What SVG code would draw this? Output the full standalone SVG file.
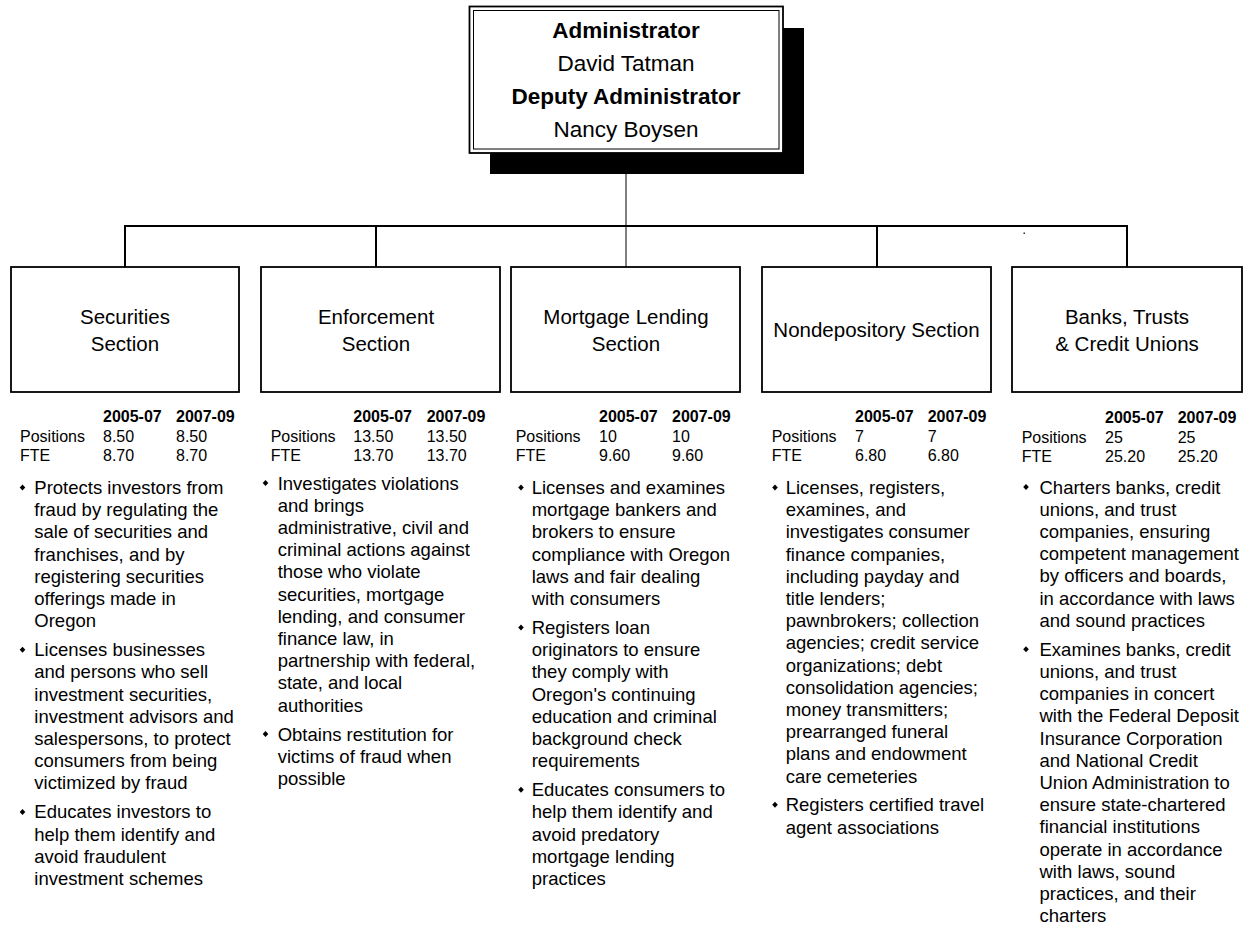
<svg xmlns="http://www.w3.org/2000/svg" width="1244" height="926" viewBox="0 0 1244 926">
<style>
text{font-family:"Liberation Sans",Arial,sans-serif;fill:#000}
.top{font-size:22.5px;text-anchor:middle}
.b{font-weight:bold}
.title{font-size:20.5px;text-anchor:middle}
.tbl{font-size:16px}
.body{font-size:18.5px}
.box{fill:#fff;stroke:#000;stroke-width:1.8}
.con{stroke:#000;fill:none}
.bul{fill:#000}
</style>
<defs>
<polygon id="dia" points="0,-3 2.8,0 0,3 -2.8,0"/>
</defs>
<rect x="0" y="0" width="1244" height="926" fill="#fff"/>

<g id="connectors">
<line class="con" x1="626" y1="174" x2="626" y2="267" stroke-width="1"/>
<polyline class="con" points="125,267 125,226 1127,226 1127,267" stroke-width="2"/>
<line class="con" x1="376" y1="226" x2="376" y2="267" stroke-width="2"/>
<line class="con" x1="877" y1="226" x2="877" y2="267" stroke-width="2"/>
<rect x="1023.5" y="232.5" width="1.5" height="1.5" fill="#333"/>
</g>

<g id="administrator">
<rect x="490" y="28" width="314" height="146" fill="#000"/>
<rect x="469.5" y="6.5" width="313.5" height="146.5" fill="#fff" stroke="#000" stroke-width="1.8"/>
<rect x="473.5" y="10.5" width="305.5" height="138.5" fill="none" stroke="#000" stroke-width="1"/>
<text class="top b" x="626" y="37.5">Administrator</text>
<text class="top" x="626" y="71">David Tatman</text>
<text class="top b" x="626" y="104">Deputy Administrator</text>
<text class="top" x="626" y="137">Nancy Boysen</text>
</g>

<g id="securities">
<rect class="box" x="11" y="267" width="228" height="125"/>
<text class="title" x="125" y="323.5">Securities</text>
<text class="title" x="125" y="350.5">Section</text>
<g class="tbl">
<text class="tbl b" x="103" y="422">2005-07</text><text class="tbl b" x="176" y="422">2007-09</text>
<text class="tbl" x="20" y="441.5">Positions</text><text class="tbl" x="103" y="441.5">8.50</text><text class="tbl" x="176" y="441.5">8.50</text>
<text class="tbl" x="20" y="460.5">FTE</text><text class="tbl" x="103" y="460.5">8.70</text><text class="tbl" x="176" y="460.5">8.70</text>
</g>
<use href="#dia" x="22.5" y="487.5"/>
<use href="#dia" x="22.5" y="649.7"/>
<use href="#dia" x="22.5" y="811.9"/>
<text class="body" x="34.3" y="494"><tspan x="34.3" dy="0">Protects investors from</tspan><tspan x="34.3" dy="22.2">fraud by regulating the</tspan><tspan x="34.3" dy="22.2">sale of securities and</tspan><tspan x="34.3" dy="22.2">franchises, and by</tspan><tspan x="34.3" dy="22.2">registering securities</tspan><tspan x="34.3" dy="22.2">offerings made in</tspan><tspan x="34.3" dy="22.2">Oregon</tspan></text>
<text class="body" x="34.3" y="656.2"><tspan x="34.3" dy="0">Licenses businesses</tspan><tspan x="34.3" dy="22.2">and persons who sell</tspan><tspan x="34.3" dy="22.2">investment securities,</tspan><tspan x="34.3" dy="22.2">investment advisors and</tspan><tspan x="34.3" dy="22.2">salespersons, to protect</tspan><tspan x="34.3" dy="22.2">consumers from being</tspan><tspan x="34.3" dy="22.2">victimized by fraud</tspan></text>
<text class="body" x="34.3" y="818.4"><tspan x="34.3" dy="0">Educates investors to</tspan><tspan x="34.3" dy="22.2">help them identify and</tspan><tspan x="34.3" dy="22.2">avoid fraudulent</tspan><tspan x="34.3" dy="22.2">investment schemes</tspan></text>
</g>

<g id="enforcement">
<rect class="box" x="261" y="267" width="239" height="125"/>
<text class="title" x="376" y="323.5">Enforcement</text>
<text class="title" x="376" y="350.5">Section</text>
<text class="tbl b" x="353.3" y="422">2005-07</text><text class="tbl b" x="426.7" y="422">2007-09</text>
<text class="tbl" x="270.7" y="441.5">Positions</text><text class="tbl" x="353.3" y="441.5">13.50</text><text class="tbl" x="426.7" y="441.5">13.50</text>
<text class="tbl" x="270.7" y="460.5">FTE</text><text class="tbl" x="353.3" y="460.5">13.70</text><text class="tbl" x="426.7" y="460.5">13.70</text>
<use href="#dia" x="265.5" y="483"/>
<use href="#dia" x="265.5" y="734"/>
<text class="body" x="277.7" y="489.5"><tspan x="277.7" dy="0">Investigates violations</tspan><tspan x="277.7" dy="22.2">and brings</tspan><tspan x="277.7" dy="22.2">administrative, civil and</tspan><tspan x="277.7" dy="22.2">criminal actions against</tspan><tspan x="277.7" dy="22.2">those who violate</tspan><tspan x="277.7" dy="22.2">securities, mortgage</tspan><tspan x="277.7" dy="22.2">lending, and consumer</tspan><tspan x="277.7" dy="22.2">finance law, in</tspan><tspan x="277.7" dy="22.2">partnership with federal,</tspan><tspan x="277.7" dy="22.2">state, and local</tspan><tspan x="277.7" dy="22.2">authorities</tspan></text>
<text class="body" x="277.7" y="740.5"><tspan x="277.7" dy="0">Obtains restitution for</tspan><tspan x="277.7" dy="22.2">victims of fraud when</tspan><tspan x="277.7" dy="22.2">possible</tspan></text>
</g>

<g id="mortgage">
<rect class="box" x="511" y="267" width="229" height="125"/>
<text class="title" x="626" y="323.5">Mortgage Lending</text>
<text class="title" x="626" y="350.5">Section</text>
<text class="tbl b" x="599" y="422">2005-07</text><text class="tbl b" x="672" y="422">2007-09</text>
<text class="tbl" x="515.7" y="441.5">Positions</text><text class="tbl" x="599" y="441.5">10</text><text class="tbl" x="672" y="441.5">10</text>
<text class="tbl" x="515.7" y="460.5">FTE</text><text class="tbl" x="599" y="460.5">9.60</text><text class="tbl" x="672" y="460.5">9.60</text>
<use href="#dia" x="521" y="487.5"/>
<use href="#dia" x="521" y="627.5"/>
<use href="#dia" x="521" y="789.7"/>
<text class="body" x="531.7" y="494"><tspan x="531.7" dy="0">Licenses and examines</tspan><tspan x="531.7" dy="22.2">mortgage bankers and</tspan><tspan x="531.7" dy="22.2">brokers to ensure</tspan><tspan x="531.7" dy="22.2">compliance with Oregon</tspan><tspan x="531.7" dy="22.2">laws and fair dealing</tspan><tspan x="531.7" dy="22.2">with consumers</tspan></text>
<text class="body" x="531.7" y="634"><tspan x="531.7" dy="0">Registers loan</tspan><tspan x="531.7" dy="22.2">originators to ensure</tspan><tspan x="531.7" dy="22.2">they comply with</tspan><tspan x="531.7" dy="22.2">Oregon's continuing</tspan><tspan x="531.7" dy="22.2">education and criminal</tspan><tspan x="531.7" dy="22.2">background check</tspan><tspan x="531.7" dy="22.2">requirements</tspan></text>
<text class="body" x="531.7" y="796.2"><tspan x="531.7" dy="0">Educates consumers to</tspan><tspan x="531.7" dy="22.2">help them identify and</tspan><tspan x="531.7" dy="22.2">avoid predatory</tspan><tspan x="531.7" dy="22.2">mortgage lending</tspan><tspan x="531.7" dy="22.2">practices</tspan></text>
</g>

<g id="nondepository">
<rect class="box" x="762" y="267" width="229" height="125"/>
<text class="title" x="876.5" y="337">Nondepository Section</text>
<text class="tbl b" x="855" y="422">2005-07</text><text class="tbl b" x="927.7" y="422">2007-09</text>
<text class="tbl" x="771.7" y="441.5">Positions</text><text class="tbl" x="855" y="441.5">7</text><text class="tbl" x="927.7" y="441.5">7</text>
<text class="tbl" x="771.7" y="460.5">FTE</text><text class="tbl" x="855" y="460.5">6.80</text><text class="tbl" x="927.7" y="460.5">6.80</text>
<use href="#dia" x="775" y="487.5"/>
<use href="#dia" x="775" y="804.8"/>
<text class="body" x="785.7" y="494"><tspan x="785.7" dy="0">Licenses, registers,</tspan><tspan x="785.7" dy="22.2">examines, and</tspan><tspan x="785.7" dy="22.2">investigates consumer</tspan><tspan x="785.7" dy="22.2">finance companies,</tspan><tspan x="785.7" dy="22.2">including payday and</tspan><tspan x="785.7" dy="22.2">title lenders;</tspan><tspan x="785.7" dy="22.2">pawnbrokers; collection</tspan><tspan x="785.7" dy="22.2">agencies; credit service</tspan><tspan x="785.7" dy="22.2">organizations; debt</tspan><tspan x="785.7" dy="22.2">consolidation agencies;</tspan><tspan x="785.7" dy="22.2">money transmitters;</tspan><tspan x="785.7" dy="22.2">prearranged funeral</tspan><tspan x="785.7" dy="22.2">plans and endowment</tspan><tspan x="785.7" dy="22.2">care cemeteries</tspan></text>
<text class="body" x="785.7" y="811.3"><tspan x="785.7" dy="0">Registers certified travel</tspan><tspan x="785.7" dy="22.2">agent associations</tspan></text>
</g>

<g id="banks">
<rect class="box" x="1012" y="267" width="230" height="125"/>
<text class="title" x="1127" y="323.5">Banks, Trusts</text>
<text class="title" x="1127" y="350.5">&amp; Credit Unions</text>
<text class="tbl b" x="1105" y="423">2005-07</text><text class="tbl b" x="1177.7" y="423">2007-09</text>
<text class="tbl" x="1021.7" y="442.5">Positions</text><text class="tbl" x="1105" y="442.5">25</text><text class="tbl" x="1177.7" y="442.5">25</text>
<text class="tbl" x="1021.7" y="461.5">FTE</text><text class="tbl" x="1105" y="461.5">25.20</text><text class="tbl" x="1177.7" y="461.5">25.20</text>
<use href="#dia" x="1026" y="487"/>
<use href="#dia" x="1026" y="649.2"/>
<text class="body" x="1039.5" y="493.5"><tspan x="1039.5" dy="0">Charters banks, credit</tspan><tspan x="1039.5" dy="22.2">unions, and trust</tspan><tspan x="1039.5" dy="22.2">companies, ensuring</tspan><tspan x="1039.5" dy="22.2">competent management</tspan><tspan x="1039.5" dy="22.2">by officers and boards,</tspan><tspan x="1039.5" dy="22.2">in accordance with laws</tspan><tspan x="1039.5" dy="22.2">and sound practices</tspan></text>
<text class="body" x="1039.5" y="655.7"><tspan x="1039.5" dy="0">Examines banks, credit</tspan><tspan x="1039.5" dy="22.2">unions, and trust</tspan><tspan x="1039.5" dy="22.2">companies in concert</tspan><tspan x="1039.5" dy="22.2">with the Federal Deposit</tspan><tspan x="1039.5" dy="22.2">Insurance Corporation</tspan><tspan x="1039.5" dy="22.2">and National Credit</tspan><tspan x="1039.5" dy="22.2">Union Administration to</tspan><tspan x="1039.5" dy="22.2">ensure state-chartered</tspan><tspan x="1039.5" dy="22.2">financial institutions</tspan><tspan x="1039.5" dy="22.2">operate in accordance</tspan><tspan x="1039.5" dy="22.2">with laws, sound</tspan><tspan x="1039.5" dy="22.2">practices, and their</tspan><tspan x="1039.5" dy="22.2">charters</tspan></text>
</g>
</svg>
